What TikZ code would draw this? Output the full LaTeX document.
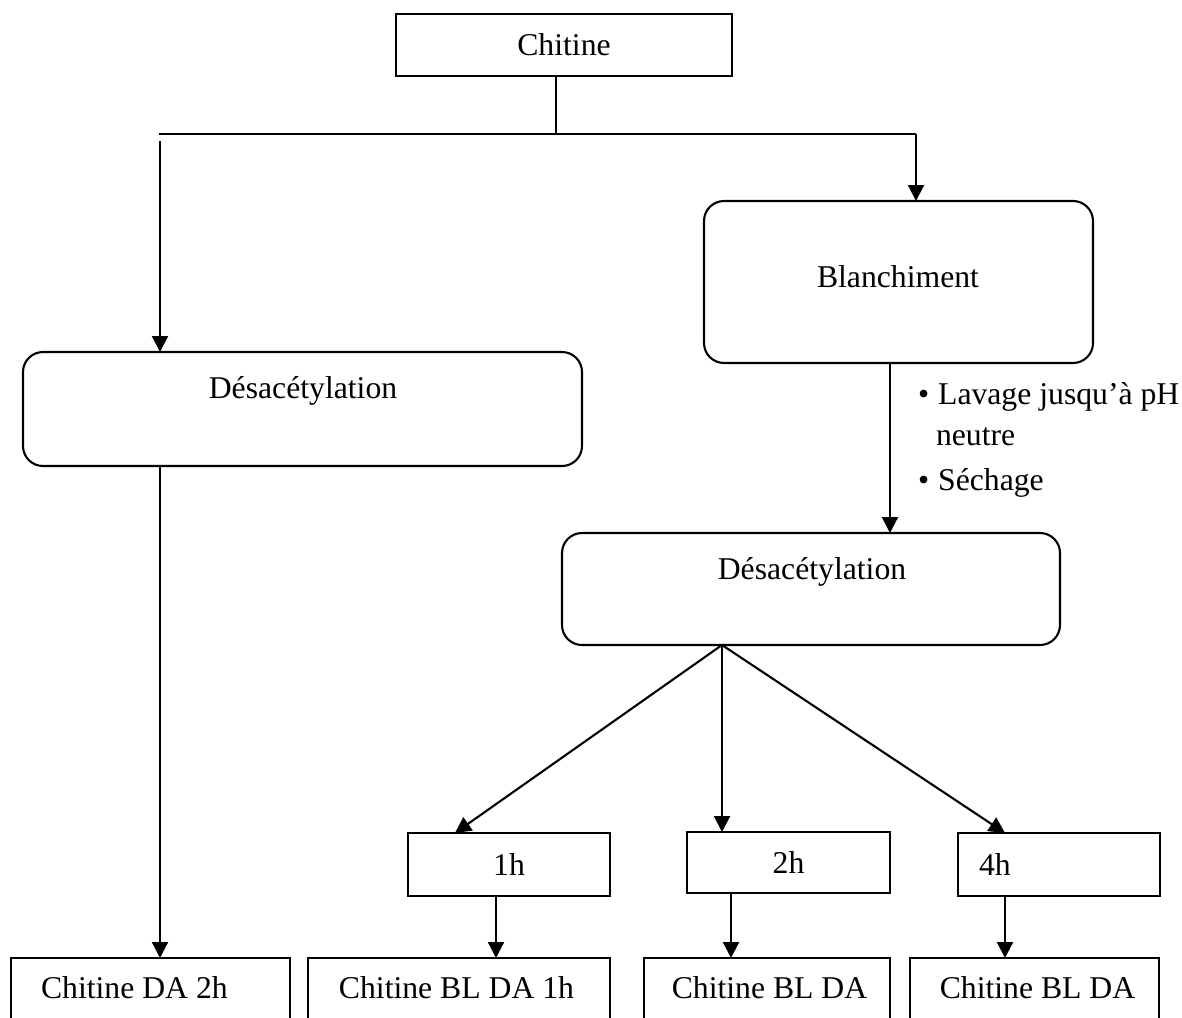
\documentclass[tikz,border=0pt]{standalone}
\usepackage{fontspec}
\setmainfont{Liberation Serif}
\usetikzlibrary{arrows.meta}

\begin{document}
\begin{tikzpicture}[x=1pt, y=-1pt, line width=2.1pt,
  font=\fontsize{31.7}{38}\selectfont,
  box/.style={draw, inner sep=0pt, outer sep=0pt},
  rbox/.style={box, rounded corners=20pt},
  txt/.style={inner sep=0pt, anchor=base},
  arr/.style={-{Triangle[length=16pt, width=16pt]}}]
\useasboundingbox (0,0) rectangle (1182,1017);
% top and the first branch
\node[box, minimum width=336pt, minimum height=62pt] (chit) at (564,45) {Chitine};
\node[rbox, minimum width=389pt, minimum height=162pt] (blanch) at (898.5,282) {};
\node[txt] (blancht) at (898,287) {Blanchiment};
\node[rbox, minimum width=559pt, minimum height=114pt] (desL) at (302.5,409) {};
\node[txt] (desLt) at (303,398) {Désacétylation};
\node[rbox, minimum width=498pt, minimum height=112pt] (desR) at (811,589) {};
\node[txt] (desRt) at (812,579) {Désacétylation};
% washing notes
\node[txt, anchor=base west] (lav) at (917,404) {\textbullet\hspace{9pt}Lavage jusqu’à pH};
\node[txt, anchor=base west] (neu) at (935,445) {neutre};
\node[txt, anchor=base west] (sech) at (917,490) {\textbullet\hspace{9pt}Séchage};
% durations
\node[box, minimum width=202pt, minimum height=63pt] (h1) at (509,864.5) {1h};
\node[box, minimum width=203pt, minimum height=61pt] (h2) at (788.5,862.5) {2h};
\node[box, minimum width=202pt, minimum height=63pt] (h4) at (1059,864.5) {};
\node[txt, anchor=base west] (h4t) at (978,875) {4h};
% products (cut by the page bottom)
\node[box, minimum width=279pt, minimum height=102pt] (b1) at (150.5,1009) {};
\node[box, minimum width=302pt, minimum height=102pt] (b2) at (459,1009) {};
\node[box, minimum width=246pt, minimum height=102pt] (b3) at (767,1009) {};
\node[box, minimum width=249pt, minimum height=102pt] (b4) at (1034.5,1009) {};
\node[txt, anchor=base west] (b1t) at (40,998) {Chitine DA 2h};
\node[txt] (b2t) at (456.5,998) {Chitine BL DA 1h};
\node[txt] (b3t) at (769.5,998) {Chitine BL DA};
\node[txt] (b4t) at (1037.5,998) {Chitine BL DA};
% connectors
\coordinate (split) at (556,134);
\coordinate (lft) at (159,134);
\coordinate (rgt) at (916,134);
\coordinate (lftdown) at (160,141);
\coordinate (blx) at (890,0);
\coordinate (fan) at (722,645);
\coordinate (t1) at (455,833);
\coordinate (t4) at (1005,833);
\coordinate (d1) at (496,0);
\coordinate (d2) at (731,0);
\coordinate (d4) at (1005,0);
\draw (split |- chit.south) -- (split);
\draw (lft) -- (rgt);
\draw[arr] (rgt) -- (rgt |- blanch.north);
\draw[arr] (lftdown) -- (lftdown |- desL.north);
\draw[arr] (lftdown |- desL.south) -- (lftdown |- b1.north);
\draw[arr] (blx |- blanch.south) -- (blx |- desR.north);
\draw[arr] (fan) -- (t1);
\draw[arr] (fan) -- (fan |- h2.north);
\draw[arr] (fan) -- (t4);
\draw[arr] (d1 |- h1.south) -- (d1 |- b2.north);
\draw[arr] (d2 |- h2.south) -- (d2 |- b3.north);
\draw[arr] (d4 |- h4.south) -- (d4 |- b4.north);
\end{tikzpicture}
\end{document}
